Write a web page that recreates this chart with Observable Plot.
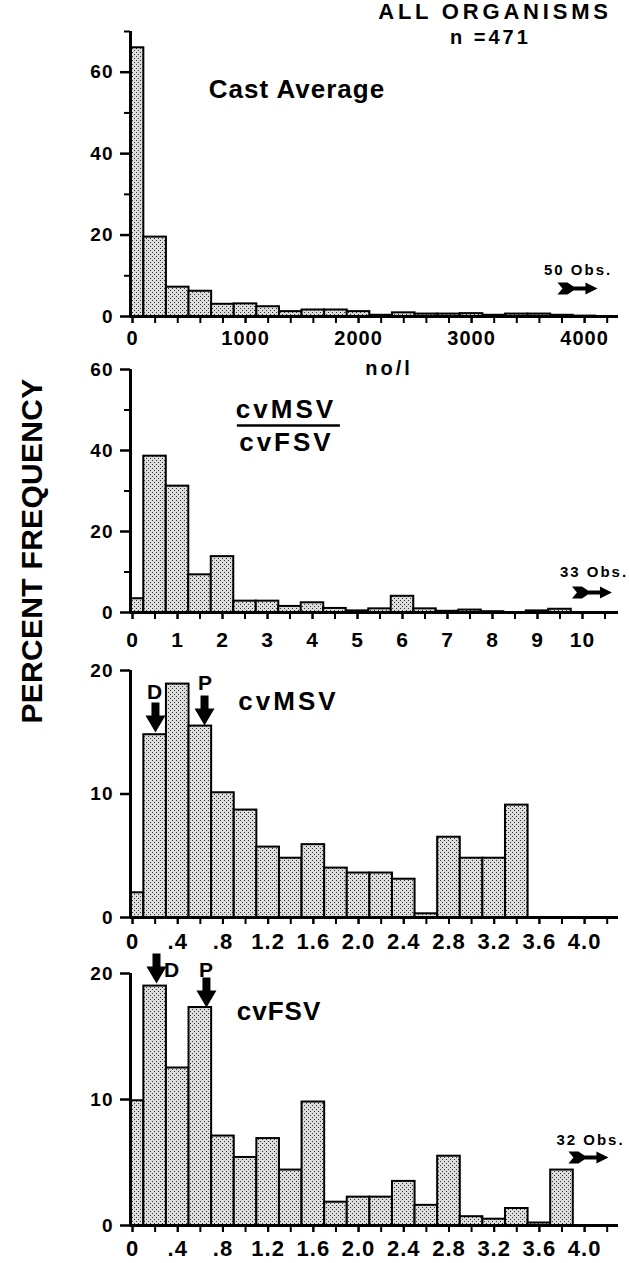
<!DOCTYPE html>
<html>
<head>
<meta charset="utf-8">
<script src="https://cdn.jsdelivr.net/npm/d3@7"></script>
<script src="https://cdn.jsdelivr.net/npm/@observablehq/plot@0.6"></script>
<style>
  body { margin: 0; background: #fff; }
  #fig { position: relative; width: 629px; height: 1263px; overflow: hidden; font-family: "Liberation Sans", Arial, sans-serif; }
  #fig svg { position: absolute; left: 0; overflow: visible; background: none; }
  #ylab { position: absolute; left: 32px; top: 551px; transform: translate(-50%, -50%) rotate(-90deg);
          font: bold 30px "Liberation Sans", Arial, sans-serif; white-space: nowrap; letter-spacing: 0.3px; color: #000; }
</style>
</head>
<body>
<div id="fig"><div id="ylab">PERCENT FREQUENCY</div></div>
<script>
// ---------- data ----------
// Panel 1: Cast Average (no/l), bins of 200 centred on tick marks
const castBins = [0,200,400,600,800,1000,1200,1400,1600,1800,2000,2200,2400,2600,2800,3000,3200,3400,3600,3800,4000,4200];
const castPct  = [66,19.5,7.2,6.2,3.0,3.1,2.4,1.2,1.6,1.6,1.2,0.3,0.9,0.6,0.6,0.7,0.3,0.6,0.6,0.3,0.1,0];
const castTickLabels = [0,1000,2000,3000,4000];

// Panel 2: cvMSV / cvFSV, bins of 0.5
const ratioBins = [0,0.5,1,1.5,2,2.5,3,3.5,4,4.5,5,5.5,6,6.5,7,7.5,8,8.5,9,9.5,10,10.5];
const ratioPct  = [3.4,38.6,31.2,9.3,13.8,2.8,2.8,1.5,2.4,1.0,0.4,0.9,4.0,0.9,0.3,0.6,0.2,0,0.4,0.8,0,0];
const ratioTickLabels = [0,1,2,3,4,5,6,7,8,9,10];

// Panels 3 and 4: cvMSV and cvFSV, bins of 0.2
const cvBins = [0,0.2,0.4,0.6,0.8,1.0,1.2,1.4,1.6,1.8,2.0,2.2,2.4,2.6,2.8,3.0,3.2,3.4,3.6,3.8,4.0,4.2];
const msvPct = [2.0,14.8,18.9,15.5,10.1,8.7,5.7,4.8,5.9,4.0,3.6,3.6,3.1,0.3,6.5,4.8,4.8,9.1,0,0,0,0];
const fsvPct = [9.9,19.0,12.5,17.3,7.1,5.4,6.9,4.4,9.8,1.85,2.25,2.25,3.5,1.6,5.5,0.7,0.5,1.35,0.2,4.4,0,0];
const cvTickValues = [0,0.4,0.8,1.2,1.6,2.0,2.4,2.8,3.2,3.6,4.0];
const cvTickLabels = ["0",".4",".8","1.2","1.6","2.0","2.4","2.8","3.2","3.6","4.0"];

// ---------- symbols ----------
const downArrow = { draw(ctx) {
  ctx.moveTo(0, 0); ctx.lineTo(-10, -17); ctx.lineTo(-4, -17); ctx.lineTo(-4, -30);
  ctx.lineTo(4, -30); ctx.lineTo(4, -17); ctx.lineTo(10, -17); ctx.closePath();
}};
const obsArrow = { draw(ctx) {
  ctx.moveTo(-20, -6); ctx.lineTo(-10, -6); ctx.lineTo(-4, -2); ctx.lineTo(8, -2);
  ctx.lineTo(8, -6); ctx.lineTo(20, 0); ctx.lineTo(8, 6); ctx.lineTo(8, 2);
  ctx.lineTo(-4, 2); ctx.lineTo(-10, 6); ctx.lineTo(-20, 6); ctx.lineTo(-15, 0); ctx.closePath();
}};

const FONT = "'Liberation Sans', Arial, sans-serif";
const fig = document.getElementById("fig");

function addPattern(svg, id) {
  const ns = "http://www.w3.org/2000/svg";
  const defs = document.createElementNS(ns, "defs");
  defs.innerHTML = `<pattern id="${id}" width="4" height="4" patternUnits="userSpaceOnUse">
    <rect width="4" height="4" fill="#dcdcdc"/>
    <rect x="0" y="0" width="1" height="1" fill="#333"/>
    <rect x="2" y="2" width="1" height="1" fill="#333"/></pattern>`;
  svg.insertBefore(defs, svg.firstChild);
}

function spacing(svg, map) {
  d3.select(svg).selectAll("text").each(function() {
    const t = this.textContent;
    if (map[t] != null) this.setAttribute("letter-spacing", map[t] + "px");
  });
}

function txt(items, size) {
  return Plot.text(items, {x: "x", y: "y", text: "t", fontSize: size, fontWeight: "bold",
    textAnchor: "middle", lineAnchor: "middle", fill: "black"});
}

function panel(o) {
  const data = o.bins.map((c, i) => ({x1: c - o.binWidth / 2, x2: c + o.binWidth / 2, pct: o.pct[i]}));
  const fmtMap = new Map(o.labelX.map((v, i) => [v, o.labelText ? o.labelText[i] : String(v)]));
  const svg = Plot.plot({
    width: 629, height: o.height,
    marginLeft: 130, marginRight: 11, marginTop: o.marginTop, marginBottom: o.marginBottom,
    x: {domain: o.xDomain, label: null},
    y: {domain: o.yDomain, label: null},
    style: {fontFamily: FONT, fontWeight: "bold", color: "black", background: "none", overflow: "visible", letterSpacing: "1px"},
    marks: [
      Plot.rectY(data, {x1: "x1", x2: "x2", y: "pct", fill: `url(#${o.id})`, stroke: "black", strokeWidth: 2, clip: true}),
      Plot.ruleY([0], {x1: o.xDomain[0], x2: o.xDomain[1], strokeWidth: 3, stroke: "black"}),
      Plot.ruleX([o.xDomain[0]], {y1: 0, y2: o.yDomain[1], strokeWidth: 3, stroke: "black"}),
      Plot.axisX(o.bins, {tickSize: 7, strokeWidth: 2, tickFormat: () => "", label: null}),
      Plot.axisX(o.labelX, {tickSize: 7, strokeWidth: 2, tickPadding: o.xPad, tickFormat: d => fmtMap.get(d),
        fontSize: o.xFont, fontWeight: "bold", label: null}),
      Plot.axisY(o.majorY, {tickSize: 10, strokeWidth: 2.5, tickPadding: 7, fontSize: 19, fontWeight: "bold", label: null}),
      o.minorY.length ? Plot.axisY(o.minorY, {tickSize: 6, strokeWidth: 2, tickFormat: () => "", label: null}) : null,
      ...o.extra
    ]
  });
  addPattern(svg, o.id);
  svg.style.top = o.top + "px";
  if (o.spacing) spacing(svg, o.spacing);
  fig.appendChild(svg);
  return svg;
}

// Panel 1
panel({
  id: "dots1", top: 0, height: 385, marginTop: 31, marginBottom: 69,
  xDomain: [-18, 4300], yDomain: [0, 70],
  bins: castBins, pct: castPct, binWidth: 200,
  labelX: castTickLabels, xPad: 7, xFont: 20,
  majorY: [0, 20, 40, 60], minorY: [10, 30, 50, 70],
  extra: [
    txt([{x: 3207, y: 74.9, t: "ALL ORGANISMS"}], 22),
    txt([{x: 3167, y: 68.4, t: "n =471"}], 20),
    txt([{x: 1455, y: 55.6, t: "Cast Average"}], 26),
    txt([{x: 3942, y: 11.3, t: "50 Obs."}], 15),
    txt([{x: 2269, y: -12.9, t: "no/l"}], 20),
    Plot.dot([{x: 3937, y: 6.9}], {x: "x", y: "y", symbol: obsArrow, fill: "black", stroke: "none"})
  ],
  spacing: {"ALL ORGANISMS": 3.8, "n =471": 3, "Cast Average": 1, "50 Obs.": 2, "no/l": 3}
});

// Panel 2
panel({
  id: "dots2", top: 340, height: 315, marginTop: 29, marginBottom: 43,
  xDomain: [-0.045, 10.8], yDomain: [0, 60],
  bins: ratioBins, pct: ratioPct, binWidth: 0.5,
  labelX: ratioTickLabels, xPad: 13, xFont: 21,
  majorY: [0, 20, 40, 60], minorY: [10, 30, 50],
  extra: [
    txt([{x: 3.41, y: 50.0, t: "cvMSV"}], 26),
    Plot.ruleY([46.17], {x1: 2.33, x2: 4.62, strokeWidth: 2.5, stroke: "black"}),
    txt([{x: 3.42, y: 42.0, t: "cvFSV"}], 26),
    txt([{x: 10.255, y: 10.0, t: "33 Obs."}], 15),
    Plot.dot([{x: 10.21, y: 4.94}], {x: "x", y: "y", symbol: obsArrow, fill: "black", stroke: "none"})
  ],
  spacing: {"cvMSV": 3, "cvFSV": 3, "33 Obs.": 2}
});

// Panel 3
panel({
  id: "dots3", top: 640, height: 320, marginTop: 30, marginBottom: 43,
  xDomain: [-0.018, 4.3], yDomain: [0, 20],
  bins: cvBins, pct: msvPct, binWidth: 0.2,
  labelX: cvTickValues, labelText: cvTickLabels, xPad: 9, xFont: 22,
  majorY: [0, 10, 20], minorY: [],
  extra: [
    txt([{x: 1.38, y: 17.49, t: "cvMSV"}], 26),
    txt([{x: 0.199, y: 18.26, t: "D"}, {x: 0.646, y: 18.95, t: "P"}], 21),
    Plot.dot([{x: 0.203, y: 14.98}, {x: 0.637, y: 15.55}], {x: "x", y: "y", symbol: downArrow, fill: "black", stroke: "none"})
  ],
  spacing: {"cvMSV": 3}
});

// Panel 4
panel({
  id: "dots4", top: 945, height: 318, marginTop: 28, marginBottom: 38,
  xDomain: [-0.018, 4.3], yDomain: [0, 20],
  bins: cvBins, pct: fsvPct, binWidth: 0.2,
  labelX: cvTickValues, labelText: cvTickLabels, xPad: 8, xFont: 22,
  majorY: [0, 10, 20], minorY: [],
  extra: [
    txt([{x: 1.296, y: 16.94, t: "cvFSV"}], 26),
    txt([{x: 0.349, y: 20.28, t: "D"}, {x: 0.654, y: 20.28, t: "P"}], 21),
    Plot.dot([{x: 0.212, y: 19.21}, {x: 0.654, y: 17.30}], {x: "x", y: "y", symbol: downArrow, fill: "black", stroke: "none"}),
    txt([{x: 4.052, y: 6.75, t: "32 Obs."}], 15),
    Plot.dot([{x: 4.034, y: 5.40}], {x: "x", y: "y", symbol: obsArrow, fill: "black", stroke: "none"})
  ],
  spacing: {"cvFSV": 1, "32 Obs.": 2}
});
</script>
</body>
</html>
